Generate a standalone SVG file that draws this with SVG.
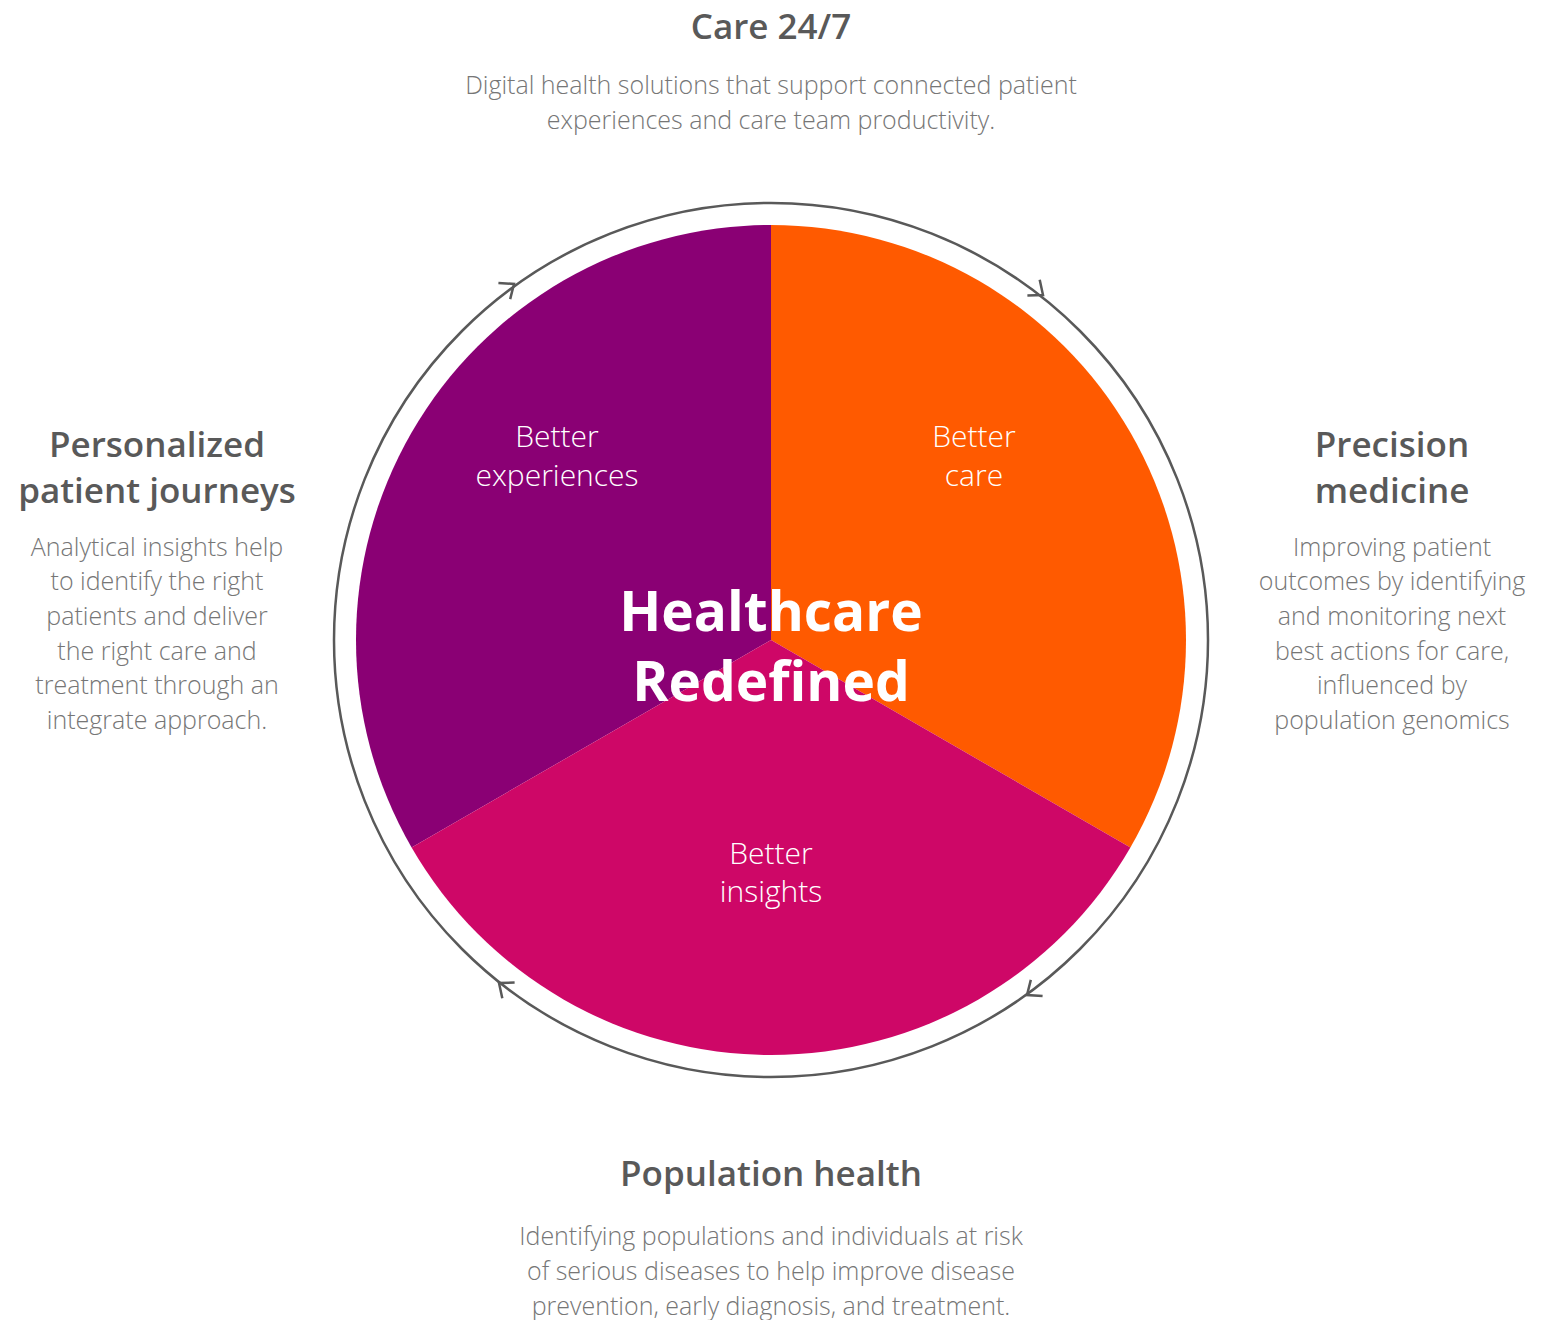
<svg xmlns="http://www.w3.org/2000/svg" width="1561" height="1320" viewBox="0 0 1561 1320">
<style>
.h{font-family:"Open Sans","Noto Sans","Liberation Sans",sans-serif;font-weight:600;fill:#595959;text-anchor:middle;font-size:35px}
.b{font-family:"Open Sans","Noto Sans","Liberation Sans",sans-serif;font-weight:300;fill:#767676;text-anchor:middle;font-size:25px}
.w{font-family:"Open Sans","Noto Sans","Liberation Sans",sans-serif;font-weight:300;fill:#ffffff;text-anchor:middle;font-size:30px}
.t{font-family:"Open Sans","Noto Sans","Liberation Sans",sans-serif;font-weight:700;fill:#ffffff;text-anchor:middle;font-size:55px}
.ring{fill:none;stroke:#595959;stroke-width:2.5}
.arr{fill:none;stroke:#595959;stroke-width:2.5;stroke-linecap:butt;stroke-linejoin:miter}
</style>
<rect width="1561" height="1320" fill="#ffffff"/>
<g id="connectors">
<circle class="ring" cx="771" cy="640" r="437"/>
<path class="arr" transform="translate(514,284) rotate(-36)" d="M-12,-10 L0,0 L-12,10"/>
<path class="arr" transform="translate(1043,295) rotate(38)" d="M-12,-10 L0,0 L-12,10"/>
<path class="arr" transform="translate(1027,995) rotate(144)" d="M-12,-10 L0,0 L-12,10"/>
<path class="arr" transform="translate(499,983) rotate(-142)" d="M-12,-10 L0,0 L-12,10"/>
</g>
<g id="slice-experiences">
<path d="M771,640 L771,225 A415,415 0 0 0 411.6,847.5 Z" fill="#8A0074"/>
<text class="w" x="557" y="447">Better</text>
<text class="w" x="557" y="486">experiences</text>
</g>
<g id="slice-care">
<path d="M771,640 L771,225 A415,415 0 0 1 1130.4,847.5 Z" fill="#FF5A00"/>
<text class="w" x="974" y="447">Better</text>
<text class="w" x="974" y="486">care</text>
</g>
<g id="slice-insights">
<path d="M771,640 L1130.4,847.5 A415,415 0 0 1 411.6,847.5 Z" fill="#CE0767"/>
<text class="w" x="771" y="864">Better</text>
<text class="w" x="771" y="902">insights</text>
</g>
<g id="center-title">
<text class="t" x="771" y="631">Healthcare</text>
<text class="t" x="771" y="701">Redefined</text>
</g>
<g id="care247">
<text class="h" x="771" y="39">Care 24/7</text>
<text class="b" x="771" y="94">Digital health solutions that support connected patient</text>
<text class="b" x="771" y="129">experiences and care team productivity.</text>
</g>
<g id="personalized">
<text class="h" x="157" y="457">Personalized</text>
<text class="h" x="157" y="503">patient journeys</text>
<text class="b" x="157" y="556">Analytical insights help</text>
<text class="b" x="157" y="590">to identify the right</text>
<text class="b" x="157" y="625">patients and deliver</text>
<text class="b" x="157" y="660">the right care and</text>
<text class="b" x="157" y="694">treatment through an</text>
<text class="b" x="157" y="729">integrate approach.</text>
</g>
<g id="precision">
<text class="h" x="1392" y="457">Precision</text>
<text class="h" x="1392" y="503">medicine</text>
<text class="b" x="1392" y="556">Improving patient</text>
<text class="b" x="1392" y="590">outcomes by identifying</text>
<text class="b" x="1392" y="625">and monitoring next</text>
<text class="b" x="1392" y="660">best actions for care,</text>
<text class="b" x="1392" y="694">influenced by</text>
<text class="b" x="1392" y="729">population genomics</text>
</g>
<g id="population">
<text class="h" x="771" y="1186">Population health</text>
<text class="b" x="771" y="1245">Identifying populations and individuals at risk</text>
<text class="b" x="771" y="1280">of serious diseases to help improve disease</text>
<text class="b" x="771" y="1315">prevention, early diagnosis, and treatment.</text>
</g>
</svg>
